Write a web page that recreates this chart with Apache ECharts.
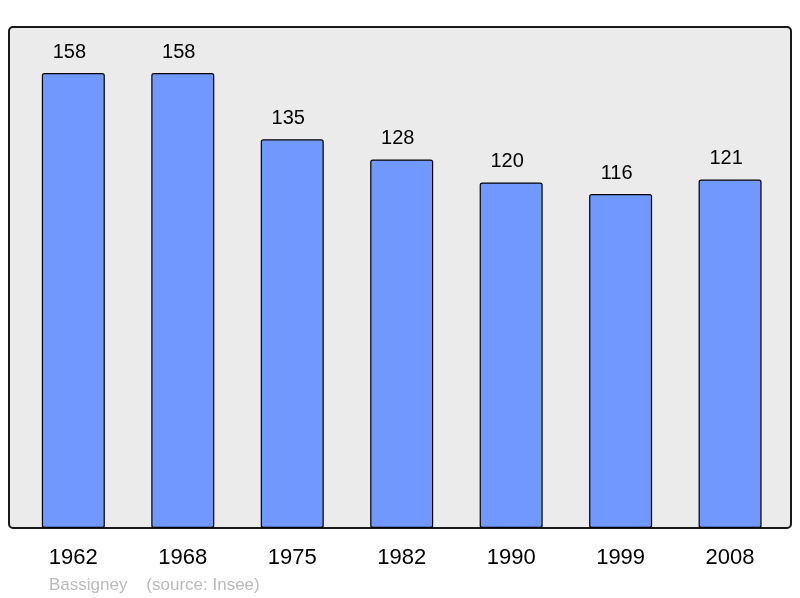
<!DOCTYPE html>
<html>
<head>
<meta charset="utf-8">
<script src="https://cdn.jsdelivr.net/npm/echarts@6/dist/echarts.min.js"></script>
<style>
  html, body { margin: 0; padding: 0; background: #fff; }
  #chart { width: 800px; height: 598px; }
</style>
</head>
<body>
<div id="chart"></div>
<script>
const years = ['1962', '1968', '1975', '1982', '1990', '1999', '2008']
const population = [158, 158, 135, 128, 120, 116, 121]
const footerText = 'Bassigney    (source: Insee)'

const chart = echarts.init(document.getElementById('chart'), null, { renderer: 'canvas' })

chart.setOption({
  animation: false,
  backgroundColor: '#fff',
  graphic: [
    {
      type: 'rect',
      z: -10,
      shape: { x: 9, y: 27, width: 782, height: 501, r: 4 },
      style: { fill: '#ebebeb', stroke: '#1a1a1a', lineWidth: 2 }
    },
    {
      type: 'text',
      left: 49,
      top: 577,
      style: { text: footerText, fill: '#bbbbbb', fontSize: 17, fontFamily: 'Liberation Sans' }
    }
  ],
  grid: { left: 18.6, right: 15.2, top: 27, bottom: 70 },
  xAxis: {
    type: 'category',
    data: years,
    axisLine: { show: false },
    axisTick: { show: false },
    axisLabel: { color: '#000', fontSize: 22, fontFamily: 'Liberation Sans', margin: 19 }
  },
  yAxis: {
    type: 'value',
    min: 0,
    max: 174,
    show: false,
    splitLine: { show: false }
  },
  series: [{
    type: 'bar',
    data: population,
    barWidth: 63,
    itemStyle: { color: '#7098ff', borderColor: '#000', borderWidth: 1.2, borderRadius: 2 },
    label: {
      show: true,
      position: 'top',
      distance: 11,
      offset: [-4, 0],
      color: '#000',
      fontSize: 20,
      fontFamily: 'Liberation Sans'
    }
  }]
})
</script>
</body>
</html>
